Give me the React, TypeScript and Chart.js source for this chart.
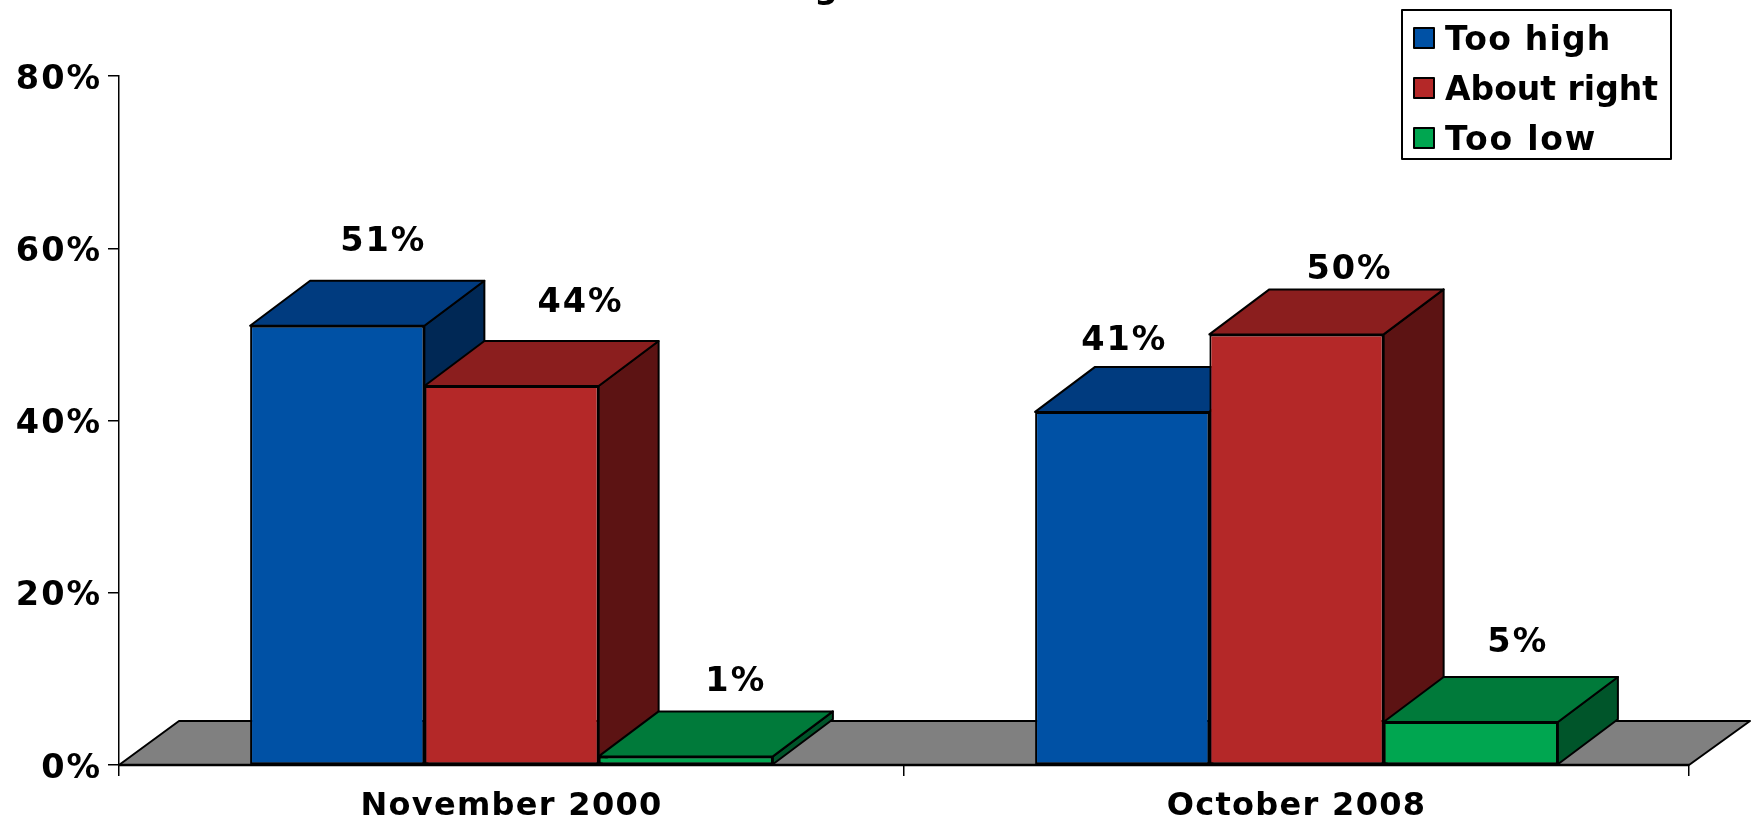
import React, { useEffect, useRef } from "react";
import { Chart, registerables } from "chart.js";

Chart.register(...registerables);

const categories = ["November 2000", "October 2008"];
const seriesNames = ["Too high", "About right", "Too low"];
const tooHigh = [51, 41];
const aboutRight = [44, 50];
const tooLow = [1, 5];
const yTicks = [0, 20, 40, 60, 80];
const clippedTitleFragment = "g";

const FONT = '"DejaVu Sans", sans-serif';
const frontColors = ["#0051A5", "#B42828", "#00A650"];
const topColors = ["#003B7F", "#8B1E1E", "#007A3A"];
const sideColors = ["#002855", "#5C1313", "#00552A"];
const DEPTH_X = 60;
const DEPTH_Y = 45;
// label offset from the bar's centre / value height: [series][category]
const labelDx = [[46, 2], [69, 53], [50, 47]];
const labelDy = [[83, 71], [83, 64], [74, 79]];
const legendSpacing = ["1.2px", "0px", "1.8px"];

function poly(ctx: CanvasRenderingContext2D, pts: number[][], fill: string, lw = 2) {
  ctx.beginPath();
  pts.forEach((p, i) => (i ? ctx.lineTo(p[0], p[1]) : ctx.moveTo(p[0], p[1])));
  ctx.closePath();
  ctx.fillStyle = fill;
  ctx.fill();
  ctx.lineWidth = lw;
  ctx.strokeStyle = "#000";
  ctx.lineJoin = "round";
  ctx.stroke();
}

// Draws a scale's labels with its own letter spacing and a small vertical nudge.
function tuneLabels(scale: any, spacing: string, dy: number) {
  if (scale.__tuned) return;
  scale.__tuned = true;
  const original = scale.drawLabels;
  scale.drawLabels = function (area: any) {
    const ctx = scale.ctx;
    ctx.save();
    ctx.letterSpacing = spacing;
    ctx.translate(0, dy);
    original.call(scale, area);
    ctx.restore();
  };
}

const bar3d = {
  id: "bar3d",
  // the bars are painted below, left to right, so that each one covers the faces of its left neighbour
  beforeDatasetDraw() {
    return false;
  },
  beforeDatasetsDraw(chart: any) {
    const { ctx, chartArea: a, scales } = chart;
    const y0 = scales.y.getPixelForValue(0);
    poly(ctx, [
      [a.left, y0],
      [a.left + DEPTH_X, y0 - DEPTH_Y + 1],
      [a.right + DEPTH_X + 1, y0 - DEPTH_Y + 1],
      [a.right, y0],
    ], "#808080");

    chart.data.datasets.forEach((_: any, i: number) => {
      const meta = chart.getDatasetMeta(i);
      meta.controller.draw();
      meta.data.forEach((el: any) => {
        const p = el.getProps(["x", "y", "base", "width"], true);
        const l = p.x - p.width / 2;
        const r = p.x + p.width / 2;
        const t = p.y;
        const b = p.base;
        poly(ctx, [[r, t], [r + DEPTH_X, t - DEPTH_Y], [r + DEPTH_X, b - DEPTH_Y], [r, b]], sideColors[i]);
        poly(ctx, [[l, t], [l + DEPTH_X, t - DEPTH_Y], [r + DEPTH_X, t - DEPTH_Y], [r, t]], topColors[i]);
      });
    });
  },
  afterDatasetsDraw(chart: any) {
    const { ctx, chartArea: a, scales } = chart;
    const y0 = scales.y.getPixelForValue(0);
    ctx.save();
    ctx.strokeStyle = "#000";
    ctx.lineWidth = 2.5;
    ctx.beginPath();
    ctx.moveTo(a.left, y0);
    ctx.lineTo(a.right, y0);
    ctx.stroke();
    ctx.restore();

    ctx.save();
    ctx.fillStyle = "#000";
    ctx.font = `bold 33.5px ${FONT}`;
    ctx.textAlign = "center";
    ctx.textBaseline = "middle";
    ctx.letterSpacing = "2px";
    chart.data.datasets.forEach((ds: any, i: number) => {
      chart.getDatasetMeta(i).data.forEach((el: any, j: number) => {
        const yv = scales.y.getPixelForValue(ds.data[j]);
        ctx.fillText(`${ds.data[j]}%`, el.x + labelDx[i][j], yv - labelDy[i][j]);
      });
    });
    ctx.restore();

    // legend
    ctx.save();
    ctx.strokeStyle = "#000";
    ctx.lineWidth = 2;
    ctx.fillStyle = "#fff";
    ctx.fillRect(1402, 10, 269, 149);
    ctx.strokeRect(1402, 10, 269, 149);
    ctx.font = `bold 33px ${FONT}`;
    ctx.textBaseline = "alphabetic";
    ctx.textAlign = "left";
    seriesNames.forEach((name, i) => {
      const top = 28 + i * 50;
      ctx.fillStyle = frontColors[i];
      ctx.fillRect(1414, top, 20, 20);
      ctx.lineWidth = 2;
      ctx.strokeRect(1414, top, 20, 20);
      ctx.fillStyle = "#000";
      ctx.letterSpacing = legendSpacing[i];
      ctx.fillText(name, 1445, top + 22);
    });
    // title, of which only a descender shows above the page edge
    ctx.letterSpacing = "0px";
    ctx.font = `bold 33px ${FONT}`;
    ctx.textAlign = "center";
    ctx.fillText(clippedTitleFragment, 826, -2);
    ctx.restore();
  },
};

export default function App() {
  const ref = useRef<HTMLCanvasElement | null>(null);
  useEffect(() => {
    const chart = new Chart(ref.current!, {
      type: "bar",
      plugins: [bar3d],
      data: {
        labels: categories,
        datasets: [tooHigh, aboutRight, tooLow].map((data, i) => ({
          label: seriesNames[i],
          data,
          backgroundColor: frontColors[i],
          borderColor: "#000",
          borderWidth: 2,
          borderSkipped: false,
          categoryPercentage: 0.666,
          barPercentage: 1,
        })),
      },
      options: {
        responsive: false,
        animation: false,
        layout: { padding: { left: 0, right: 66, top: 76, bottom: 0 } },
        plugins: { legend: { display: false }, title: { display: false }, tooltip: { enabled: false } },
        scales: {
          x: {
            afterFit: (s: any) => { s.height = 53; tuneLabels(s, "1.3px", 6); },
            border: { color: "#000", width: 1.5 },
            grid: { drawOnChartArea: false, drawTicks: true, tickLength: 11, color: "#000", lineWidth: 1.5, offset: true },
            ticks: { color: "#000", font: { family: FONT, weight: "bold", size: 32 }, padding: 5, maxRotation: 0 },
          },
          y: {
            min: 0,
            max: 80,
            afterFit: (s: any) => { s.width = 119; tuneLabels(s, "2px", 4); },
            afterBuildTicks: (s: any) => { s.ticks = yTicks.map((value) => ({ value })); },
            border: { color: "#000", width: 1.5 },
            grid: { drawOnChartArea: false, drawTicks: true, tickLength: 11, color: "#000", lineWidth: 1.5 },
            ticks: { color: "#000", font: { family: FONT, weight: "bold", size: 33.5 }, padding: 6, callback: (v: any) => `${v}%` },
          },
        },
      } as any,
    });
    return () => chart.destroy();
  }, []);
  return <canvas ref={ref} width={1755} height={818} style={{ position: "fixed", left: 0, top: 0, display: "block" }} />;
}
